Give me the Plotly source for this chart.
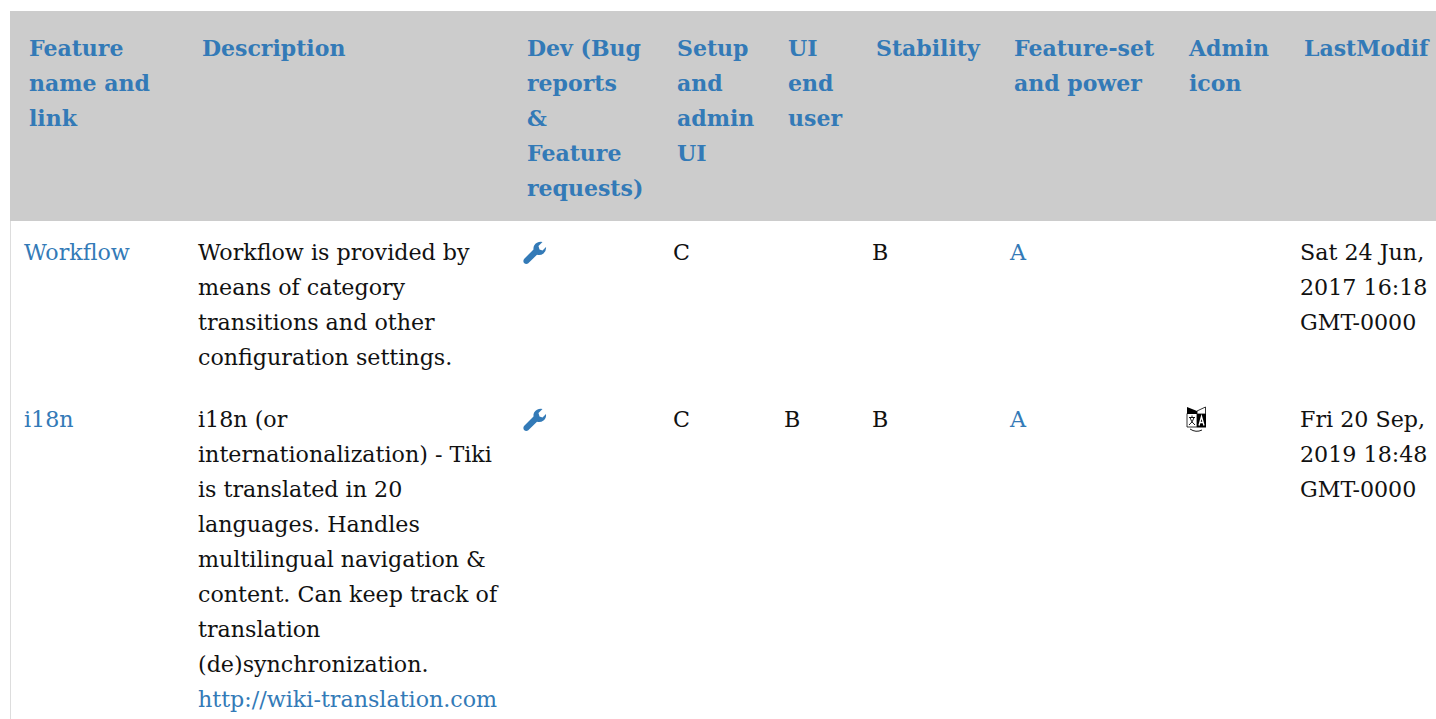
import plotly.graph_objects as go

# ---- table content ----
header_labels = [
    ["Feature", "name and", "link"],
    ["Description"],
    ["Dev (Bug", "reports", "&", "Feature", "requests)"],
    ["Setup", "and", "admin", "UI"],
    ["UI", "end", "user"],
    ["Stability"],
    ["Feature-set", "and power"],
    ["Admin", "icon"],
    ["LastModif"],
]
feature_names = ["Workflow", "i18n"]
descriptions = [
    ["Workflow is provided by", "means of category", "transitions and other", "configuration settings."],
    ["i18n (or", "internationalization) - Tiki", "is translated in 20", "languages. Handles",
     "multilingual navigation &", "content. Can keep track of", "translation", "(de)synchronization."],
]
description_links = [[], ["http://wiki-translation.com"]]
setup_grades = ["C", "C"]
ui_grades = ["", "B"]
stability_grades = ["B", "B"]
power_grades = ["A", "A"]
last_modified = [
    ["Sat 24 Jun,", "2017 16:18", "GMT-0000"],
    ["Fri 20 Sep,", "2019 18:48", "GMT-0000"],
]

# ---- layout of the page, in pixels ----
W, H = 1436, 719
LINE = 35
FONT = "DejaVu Serif"
HEAD_SIZE = 22
BODY_SIZE = 22.2
LINK = "#337ab7"
INK = "#111111"
HEAD_X = [29, 202, 527, 677, 788, 876, 1014, 1189, 1304]
HEAD_Y = 50
BODY_X = dict(name=24, desc=198, setup=673, ui=784, stab=872, power=1010, mod=1300)
ROW_Y = [254, 421]
WRENCH_SHIFT = ROW_Y[1] - ROW_Y[0]
HEAD_TOP, HEAD_BOTTOM = 11, 221


def stack(x, y0, lines):
    return [x] * len(lines), [y0 + i * LINE for i in range(len(lines))], list(lines)


hx, hy, ht = [], [], []
for x, lines in zip(HEAD_X, header_labels):
    a, b, c = stack(x, HEAD_Y, lines)
    hx += a; hy += b; ht += c

bx, by, bt = [], [], []
lx, ly, lt = [], [], []
for r, y in enumerate(ROW_Y):
    a, b, c = stack(BODY_X["name"], y, [feature_names[r]])
    lx += a; ly += b; lt += c
    a, b, c = stack(BODY_X["power"], y, [power_grades[r]])
    lx += a; ly += b; lt += c
    a, b, c = stack(BODY_X["desc"], y, descriptions[r])
    bx += a; by += b; bt += c
    a, b, c = stack(BODY_X["desc"], y + len(descriptions[r]) * LINE, description_links[r])
    lx += a; ly += b; lt += c
    for key, vals in (("setup", setup_grades), ("ui", ui_grades), ("stab", stability_grades)):
        if vals[r]:
            a, b, c = stack(BODY_X[key], y, [vals[r]])
            bx += a; by += b; bt += c
    a, b, c = stack(BODY_X["mod"], y, last_modified[r])
    bx += a; by += b; bt += c


def text_trace(x, y, t, color, size, bold=False):
    return go.Scatter(
        x=x, y=y, text=t, mode="text", textposition="middle right",
        textfont=dict(family=FONT, size=size, color=color, weight="bold" if bold else "normal"),
        hoverinfo="skip", showlegend=False, cliponaxis=False,
    )


def wrench(dy):
    pts = ("M 524.5 258.5 L 533.5 249.5 Q 533 245 537 242.8 Q 539.5 241.5 542.5 242 "
           "L 538.5 246 L 539.5 249.5 L 542.5 250.5 L 546 247 Q 546.5 251 543.5 253.5 "
           "Q 540.5 255.8 537 254.8 L 528 263.5 Q 526 264.5 524 263 Q 522.5 260.5 524.5 258.5 Z")
    res, is_y = [], False
    for tok in pts.split():
        if tok.isalpha():
            res.append(tok); is_y = False
        else:
            res.append(str(float(tok) + dy) if is_y else tok)
            is_y = not is_y
    return dict(type="path", path=" ".join(res), fillcolor=LINK, line=dict(width=0), xref="x", yref="y")


BLACK = "#000000"
WHITE = "#ffffff"
translate_icon = [
    dict(type="path", path="M 1187 413.5 L 1197 413.5 L 1197 427 L 1187 427 Z", fillcolor=WHITE,
         line=dict(color=BLACK, width=0.8)),
    dict(type="path", path="M 1187 407 L 1197 411 L 1197 414 L 1187 414 Z", fillcolor=BLACK, line=dict(width=0)),
    dict(type="path", path="M 1197 411 L 1205.5 407 L 1205.5 414 L 1197 414 Z", fillcolor=WHITE,
         line=dict(color=BLACK, width=0.8)),
    dict(type="path", path="M 1197 414 L 1206 414 L 1206 427.5 L 1197 427.5 Z", fillcolor=BLACK, line=dict(width=0)),
    dict(type="path", path="M 1199 425.5 L 1201.5 416.5 L 1204 425.5 M 1200 422.5 L 1203 422.5",
         line=dict(color=WHITE, width=1.3)),
    dict(type="path", path="M 1189 417.5 L 1195 417.5 M 1192 415.5 L 1192 417.5 M 1190 417.5 Q 1191 422 1195 425 "
                           "M 1194 417.5 Q 1193 422 1189 425", line=dict(color=BLACK, width=0.9)),
    dict(type="path", path="M 1190 429 Q 1196 433 1202 430", line=dict(color=BLACK, width=0.9)),
]

shapes = [
    dict(type="rect", x0=10, x1=W, y0=HEAD_TOP, y1=HEAD_BOTTOM, fillcolor="#cccccc", line=dict(width=0), layer="below"),
    dict(type="rect", x0=10, x1=11, y0=HEAD_BOTTOM, y1=H, fillcolor="#dddddd", line=dict(width=0), layer="below"),
    wrench(0),
    wrench(WRENCH_SHIFT),
] + translate_icon

fig = go.Figure([
    text_trace(hx, hy, ht, LINK, HEAD_SIZE, bold=True),
    text_trace(bx, by, bt, INK, BODY_SIZE),
    text_trace(lx, ly, lt, LINK, BODY_SIZE),
])
fig.update_layout(
    width=W, height=H, autosize=False, margin=dict(l=0, r=0, t=0, b=0),
    paper_bgcolor="#ffffff", plot_bgcolor="#ffffff", shapes=shapes,
    xaxis=dict(range=[0, W], visible=False, fixedrange=True),
    yaxis=dict(range=[H, 0], visible=False, fixedrange=True),
)
fig.write_html("out.html", config=dict(displayModeBar=False),
               post_script="document.body.style.margin='0';document.body.style.overflow='hidden';")
